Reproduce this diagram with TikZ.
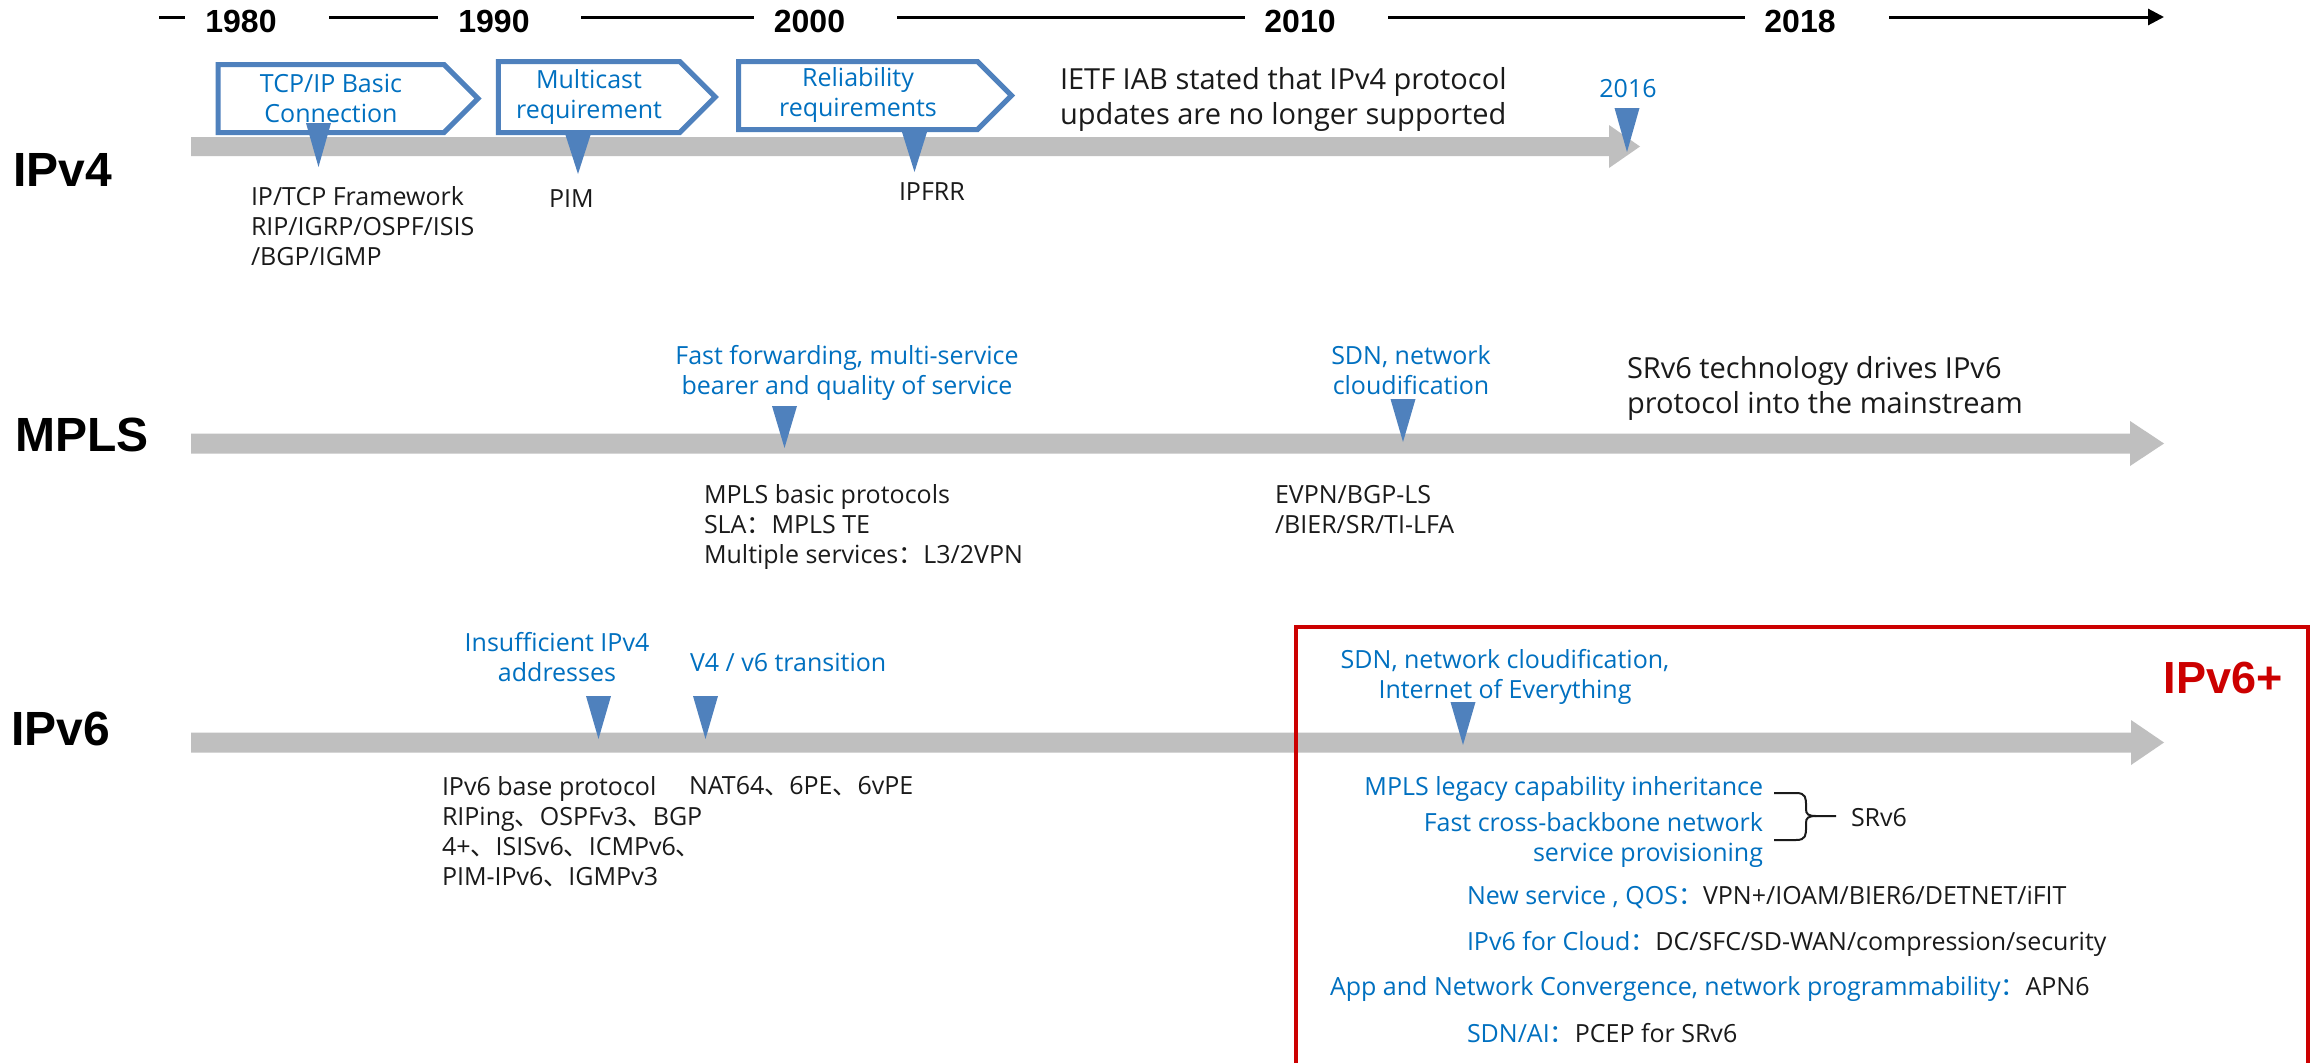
\documentclass[tikz,border=0pt]{standalone}
\usepackage{fontspec}
\setmainfont{Open Sans}
\newfontfamily\headfont{Liberation Sans}
\newfontfamily\cjkfont{Noto Sans CJK SC}
\usetikzlibrary{shapes.symbols,arrows.meta}
\definecolor{txtblue}{HTML}{0070C0}
\definecolor{pinblue}{HTML}{4F81BD}
\definecolor{bargray}{HTML}{BFBFBF}
\definecolor{ipred}{HTML}{CC0000}
\definecolor{txtdark}{HTML}{1A1A1A}
% full-width CJK punctuation
\newcommand\fwc{{\cjkfont ：}}
\newcommand\fwd{{\cjkfont 、}}

\begin{document}
\begin{tikzpicture}[x=1pt,y=-1pt,
  every node/.style={inner sep=0pt, outer sep=0pt},
  body/.style={font=\fontsize{25}{30}\selectfont, text=txtdark, align=left},
  note/.style={body, text=txtblue},
  big/.style={font=\fontsize{29}{35}\selectfont, text=txtdark, align=left},
  year/.style={font=\headfont\bfseries\fontsize{32}{32}\selectfont, text=black},
  proto/.style={font=\headfont\bfseries\fontsize{48}{48}\selectfont, text=black},
  rule/.style={line width=3pt, draw=black},
  chev/.style={shape=signal, signal to=east, signal from=nowhere,
    draw=pinblue, line width=5pt, fill=white, text=txtblue, align=center,
    font=\fontsize{25}{30}\selectfont},
  pin/.pic={\fill[pinblue] (-12.5,0) -- (12.5,0) -- (0,#1) -- cycle;},
]
\useasboundingbox[fill=white] (0,0) rectangle (2319,1063);

% ---------- time axis ----------
\node[year] (y1980) at (241,21) {1980};
\node[year] (y1990) at (494,21) {1990};
\node[year] (y2000) at (809.5,21) {2000};
\node[year] (y2010) at (1300,21) {2010};
\node[year] (y2018) at (1800,21) {2018};
\coordinate (r0a) at (159,17);  \coordinate (r0b) at (185,17);
\coordinate (r1a) at (329,17);  \coordinate (r1b) at (438,17);
\coordinate (r2a) at (581,17);  \coordinate (r2b) at (754,17);
\coordinate (r3a) at (897,17);  \coordinate (r3b) at (1245,17);
\coordinate (r4a) at (1388,17); \coordinate (r4b) at (1745,17);
\coordinate (r5a) at (1889,17); \coordinate (r5b) at (2164,17);
\draw[rule] (r0a) -- (r0b);
\draw[rule] (r1a) -- (r1b);
\draw[rule] (r2a) -- (r2b);
\draw[rule] (r3a) -- (r3b);
\draw[rule] (r4a) -- (r4b);
\draw[rule, -{Triangle[length=16pt,width=16pt]}] (r5a) -- (r5b);

% ---------- IPv4 ----------
\node[proto] (ipv4) at (63,170) {IPv4};
\fill[bargray] (191,137) -- (1609,137) -- (1609,125) -- (1640,146.5)
  -- (1609,168) -- (1609,156) -- (191,156) -- cycle;
\node[chev, minimum width=260, minimum height=68] (bx1) at (331,98.5) {TCP/IP Basic\\Connection};
\node[chev, minimum width=217, minimum height=71] (bx2) at (589,97) {Multicast\\requirement};
\node[chev, minimum width=273, minimum height=68] (bx3) at (858,95.5) {Reliability\\requirements};
\pic at (318.5,123) {pin=44};
\pic at (578,135) {pin=39};
\pic at (914.5,132) {pin=40};
\node[big, anchor=base west] (ietf) at (1060,124) {IETF IAB stated that IPv4 protocol\\updates are no longer supported};
\node[note, anchor=base] (y2016) at (1628,97) {2016};
\pic at (1627,108) {pin=44};
\node[body, anchor=base west] (v4base) at (251,265) {IP/TCP Framework\\RIP/IGRP/OSPF/ISIS\\/BGP/IGMP};
\node[body, anchor=base west] (pim) at (549,207) {PIM};
\node[body, anchor=base west] (ipfrr) at (899,200) {IPFRR};

% ---------- MPLS ----------
\node[proto] (mpls) at (82,435) {MPLS};
\fill[bargray] (191,433.5) -- (2130,433.5) -- (2130,421) -- (2164,443.5)
  -- (2130,466) -- (2130,453.5) -- (191,453.5) -- cycle;
\node[note, align=center, anchor=base] (mplsneed) at (847,394) {Fast forwarding, multi-service\\bearer and quality of service};
\pic at (784.5,406) {pin=42};
\node[body, anchor=base west] (mplsbase) at (704,563) {MPLS basic protocols\\SLA\fwc MPLS TE\\Multiple services\fwc L3/2VPN};
\node[note, align=center, anchor=base] (sdn1) at (1411,394) {SDN, network\\cloudification};
\pic at (1403,399) {pin=43};
\node[big, anchor=base west] (srv6drv) at (1627,413) {SRv6 technology drives IPv6\\protocol into the mainstream};
\node[body, anchor=base west] (evpn) at (1275,533) {EVPN/BGP-LS\\/BIER/SR/TI-LFA};

% ---------- IPv6 ----------
\node[proto] (ipv6) at (61,729) {IPv6};
\fill[bargray] (191,732.5) -- (2131,732.5) -- (2131,720) -- (2164,742.5)
  -- (2131,765) -- (2131,752.5) -- (191,752.5) -- cycle;
\node[note, align=center, anchor=base] (addr) at (557,681) {Insufficient IPv4\\addresses};
\pic at (598.5,696) {pin=43};
\node[note, anchor=base west] (trans) at (690,671) {V4 / v6 transition};
\pic at (705.5,696) {pin=43};
\node[body, anchor=base west] (v6base) at (442,885) {IPv6 base protocol\\RIPing\fwd OSPFv3\fwd BGP\\4+\fwd ISISv6\fwd ICMPv6\fwd\\PIM-IPv6\fwd IGMPv3};
\node[body, anchor=base west] (nat) at (689,794) {NAT64\fwd 6PE\fwd 6vPE};

% ---------- IPv6+ frame ----------
\draw[ipred, line width=4pt] (1296,1090) -- (1296,627) -- (2308,627) -- (2308,1090);
\node[font=\headfont\bfseries\fontsize{45}{45}\selectfont, text=ipred] (ipv6plus) at (2223,678) {IPv6+};
\node[note, align=center, anchor=base] (sdn2) at (1505,698) {SDN, network cloudification,\\Internet of Everything};
\pic at (1463,702) {pin=43};
\node[note, align=right, anchor=base east] (legacy) at (1763,795) {MPLS legacy capability inheritance};
\node[note, align=right, anchor=base east] (cross) at (1763,861) {Fast cross-backbone network\\service provisioning};
\draw[txtdark, line width=2pt] (1774,793) -- (1796,793)
  .. controls (1806,793) and (1806,798) .. (1806,806) -- (1806,809)
  .. controls (1806,814) and (1808,816) .. (1816,816) -- (1836,816);
\draw[txtdark, line width=2pt] (1774,840) -- (1796,840)
  .. controls (1806,840) and (1806,835) .. (1806,827) -- (1806,823)
  .. controls (1806,818) and (1808,816) .. (1816,816);
\node[body, anchor=base west] (srv6) at (1851,826) {SRv6};
\node[body, anchor=base west] (newsvc) at (1467,904) {\textcolor{txtblue}{New service , QOS\fwc}VPN+/IOAM/BIER6/DETNET/iFIT};
\node[body, anchor=base west] (cloud) at (1467,950) {\textcolor{txtblue}{IPv6 for Cloud\fwc}DC/SFC/SD-WAN/compression/security};
\node[body, anchor=base west] (apn) at (1330,995) {\textcolor{txtblue}{App and Network Convergence, network programmability\fwc}APN6};
\node[body, anchor=base west] (sdnai) at (1467,1042) {\textcolor{txtblue}{SDN/AI\fwc}PCEP for SRv6};
\end{tikzpicture}
\end{document}
